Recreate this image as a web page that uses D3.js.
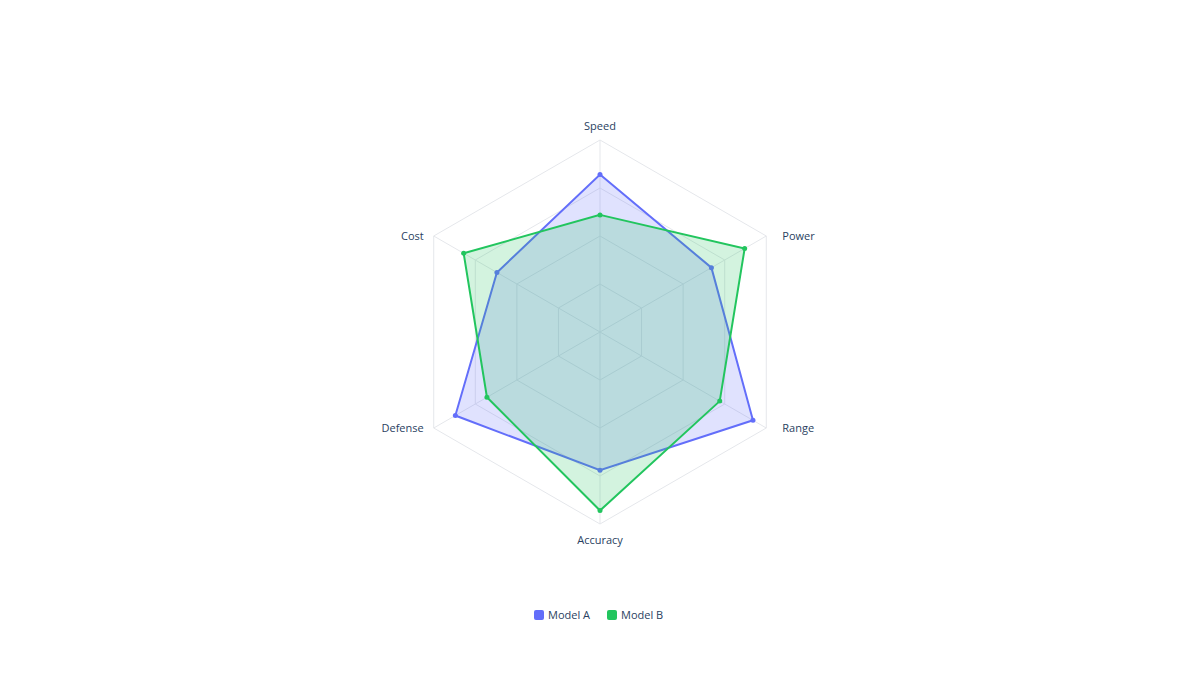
<!DOCTYPE html>
<html>
<head>
<meta charset="utf-8">
<script src="https://cdn.jsdelivr.net/npm/d3@7"></script>
<style>
body { margin: 0; background: #fff; }
text { font-family: "Open Sans", "Liberation Sans", sans-serif; }
</style>
</head>
<body>
<svg width="1200" height="690"></svg>
<script>
// Chart data
const axes = ["Speed", "Power", "Range", "Accuracy", "Defense", "Cost"]
const model_a = [82, 67, 92, 72, 87, 62]
const model_b = [61, 87, 72, 93, 68, 82]
const series_names = ["Model A", "Model B"]
const series_colors = ["#636efa", "#22c55e"]
const grid_levels = [25, 50, 75, 100]

const cx = 600, cy = 332, radius = 192
const svg = d3.select("svg")

const r = d3.scaleLinear().domain([0, 100]).range([0, radius])
const angle = d3.scaleLinear().domain([0, axes.length]).range([0, 2 * Math.PI])

function point(i, v) {
    const a = angle(i)
    return [cx + r(v) * Math.sin(a), cy - r(v) * Math.cos(a)]
}

const g = svg.append("g")

// Grid hexagons
grid_levels.forEach(function(lv) {
    g.append("polygon")
        .attr("points", axes.map((d, i) => point(i, lv).join(",")).join(" "))
        .attr("fill", "none")
        .attr("stroke", "#e5e7eb")
        .attr("stroke-width", 1)
})

// Spokes
axes.forEach(function(d, i) {
    const p = point(i, 100)
    g.append("line")
        .attr("x1", cx).attr("y1", cy)
        .attr("x2", p[0]).attr("y2", p[1])
        .attr("stroke", "#e5e7eb")
})

// Axis labels
axes.forEach(function(d, i) {
    const p = point(i, 100)
    const a = angle(i)
    const s = Math.sin(a), c = Math.cos(a)
    let anchor = "middle", x = p[0], y = p[1]
    if (Math.abs(s) < 0.01) {
        y += c > 0 ? -14 : 16
    } else {
        anchor = s > 0 ? "start" : "end"
        x += s > 0 ? 16 : -10
        y += 0
    }
    g.append("text")
        .attr("x", x).attr("y", y)
        .attr("dy", "0.35em")
        .attr("text-anchor", anchor)
        .attr("font-size", 11)
        .attr("fill", "#2a3f5f")
        .text(d)
})

// Series
const series = [model_a, model_b]
series.forEach(function(vals, k) {
    const pts = vals.map((v, i) => point(i, v))
    g.append("polygon")
        .attr("points", pts.map(p => p.join(",")).join(" "))
        .attr("fill", series_colors[k])
        .attr("fill-opacity", 0.2)
        .attr("stroke", series_colors[k])
        .attr("stroke-width", 2)
    g.selectAll(null)
        .data(pts)
        .enter()
        .append("circle")
        .attr("cx", d => d[0])
        .attr("cy", d => d[1])
        .attr("r", 2.5)
        .attr("fill", series_colors[k])
})

// Legend
const legend = svg.append("g")
const legend_x = [534, 607]
series_names.forEach(function(name, k) {
    legend.append("rect")
        .attr("x", legend_x[k]).attr("y", 610)
        .attr("width", 10).attr("height", 10)
        .attr("rx", 2)
        .attr("fill", series_colors[k])
    legend.append("text")
        .attr("x", legend_x[k] + 14).attr("y", 615)
        .attr("dy", "0.35em")
        .attr("font-size", 11)
        .attr("fill", "#2a3f5f")
        .text(name)
})
</script>
</body>
</html>
